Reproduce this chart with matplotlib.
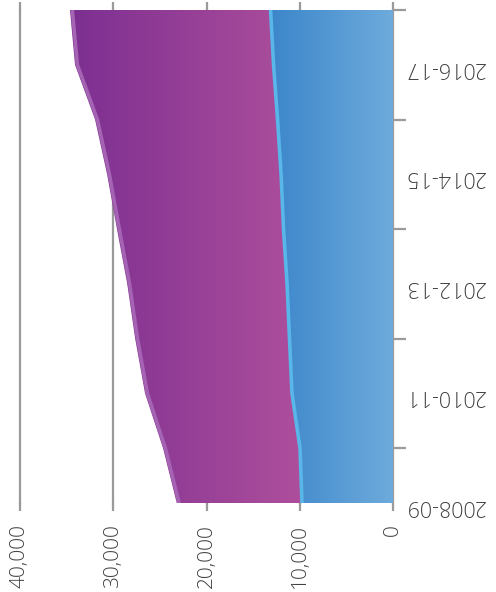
import numpy as np
import matplotlib.pyplot as plt
from matplotlib.colors import LinearSegmentedColormap

years = ['2008-09', '2009-10', '2010-11', '2011-12', '2012-13',
         '2013-14', '2014-15', '2015-16', '2016-17', '2017-18']
blue_vals = [9760, 9970, 10830, 11100, 11360, 11740, 12000, 12380, 12810, 13130]
purple_vals = [13430, 14690, 15760, 16550, 17140, 17860, 18660, 19570, 21290, 21510]
value_ticks = [0, 10000, 20000, 30000, 40000]

grey = '#9a9a9a'
text_col = '#404040'

pos = np.arange(len(years))
blue = np.array(blue_vals)
total = blue + np.array(purple_vals)

fig = plt.figure(figsize=(4.96, 5.92), dpi=100)
ax = fig.add_axes([20 / 496, 89 / 592, 373 / 496, 493 / 592])
ax.set_xlim(40000, 0)
ax.set_ylim(0, len(years) - 1)

# gradient fills clipped to the stacked areas
def grad_fill(x0, x1, c_lo, c_hi, lo, hi):
    coll = ax.fill_betweenx(pos, x0, x1, facecolor='none', edgecolor='none')
    cmap = LinearSegmentedColormap.from_list('g', [c_lo, c_hi])
    grad = np.linspace(0, 1, 256).reshape(1, -1)
    im = ax.imshow(grad, cmap=cmap, aspect='auto', extent=[hi, lo, 0, len(years) - 1],
                   origin='lower', zorder=1, interpolation='bilinear')
    im.set_clip_path(coll.get_paths()[0], ax.transData)

grad_fill(blue, total, '#7c2f91', '#ae4f9c', blue.min(), total.max())
grad_fill(0, blue, '#3c86ca', '#6eabdc', 0, blue.max())

ax.plot(total - 250, pos, color='#a463b3', lw=2.6, zorder=3, solid_capstyle='butt')
ax.plot(blue, pos, color='#58b6e8', lw=2.6, zorder=3, solid_capstyle='butt')

# value gridlines
for v in value_ticks:
    ax.axvline(v, color=grey, lw=1.6, zorder=0.5, clip_on=False)

for s in ax.spines.values():
    s.set_visible(False)

ax.set_xticks(value_ticks)
ax.set_xticklabels([f'{v:,}' for v in value_ticks])
ax.tick_params(axis='x', which='major', bottom=True, top=True, direction='out',
               length=6, width=1.6, color=grey, labelrotation=90, labelsize=15,
               labelcolor=text_col, pad=9)

ax.yaxis.tick_right()
ax.set_yticks(pos[1::2])
ax.set_yticklabels([])
ax.set_yticks(pos[::2], minor=True)
ax.set_yticklabels(years[::2], minor=True)
ax.tick_params(axis='y', which='major', right=True, left=False, length=9, width=1.6,
               color=grey, direction='out')
ax.tick_params(axis='y', which='minor', right=True, left=False, length=0,
               labelrotation=180, labelsize=15.5, labelcolor=text_col, pad=8)

for lab in ax.get_xticklabels() + ax.get_yticklabels(minor=True):
    lab.set_fontfamily('Open Sans')
    lab.set_fontweight('light')

fig.savefig('out.png', dpi=100)
